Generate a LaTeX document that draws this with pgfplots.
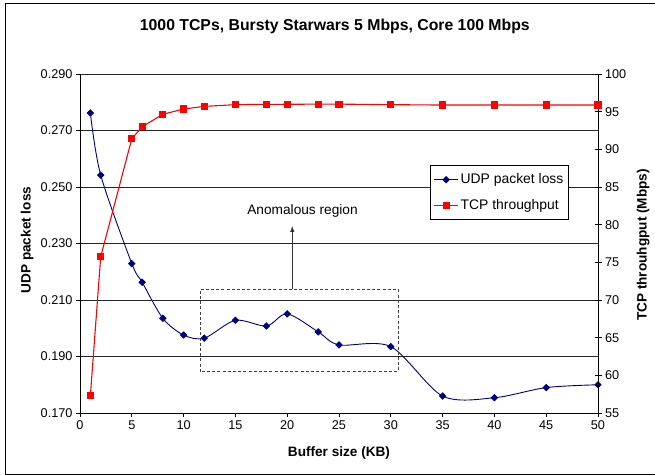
\documentclass[border=0pt]{standalone}
\usepackage{fontspec}
\setmainfont{Liberation Sans}
\usepackage{pgfplots}
\pgfplotsset{compat=1.18}
\usetikzlibrary{arrows.meta}

\definecolor{udpblue}{RGB}{0,0,128}
\definecolor{tcpred}{RGB}{255,0,0}

\pgfplotsset{
  common/.style={
    at={(80bp,62bp)}, anchor=south west,
    scale only axis, width=518bp, height=339bp,
    xmin=0, xmax=50,
    axis line style={line width=0.8bp, black},
    major tick style={line width=0.8bp, black},
    /pgf/number format/assume math mode=true,
    tick label style={font=\fontsize{12.7bp}{14bp}\selectfont},
    label style={font=\bfseries\fontsize{13.6bp}{16bp}\selectfont},
  }
}

\begin{document}
\begin{tikzpicture}
\useasboundingbox (0,0) rectangle (655bp,475bp);
\draw[line width=0.8bp] (5bp,1bp) rectangle (660bp,472bp);

% left axis: UDP packet loss
\begin{axis}[common,
    ymin=0.17, ymax=0.29,
    axis x line*=bottom, axis y line*=left,
    xtick={0,5,...,50},
    ytick={0.17,0.19,0.21,0.23,0.25,0.27,0.29},
    yticklabel style={/pgf/number format/fixed, /pgf/number format/fixed zerofill, /pgf/number format/precision=3},
    tick align=outside, major tick length=4bp,
    ymajorgrids, grid style={line width=0.6bp, black!85},
    xlabel={Buffer size (KB)},
    ylabel={UDP packet loss},
    xlabel style={at={(axis description cs:0.5,-0.118)}, anchor=center},
    ylabel style={at={(axis description cs:-0.102,0.51)}, anchor=center},
    title={1000 TCPs, Bursty Starwars 5 Mbps, Core 100 Mbps},
    title style={at={(axis description cs:0.492,1.124)}, anchor=center, font=\bfseries\fontsize{15.8bp}{18bp}\selectfont},
]
\addplot[udpblue, line width=0.9bp, smooth, tension=0.5, mark=square*, mark size=2.2bp,
    mark options={rotate=45, solid}] coordinates {
  (1,0.2762) (2,0.2542) (5,0.2229) (6,0.2163) (8,0.2035) (10,0.1976)
  (12,0.1965) (15,0.2028) (18,0.2008) (20,0.2051) (23,0.1987) (25,0.1941)
  (30,0.1935) (35,0.1760) (40,0.1754) (45,0.1790) (50,0.1800)
};
\draw[dash pattern=on 3bp off 2.2bp, line width=0.8bp, black!75]
  (axis cs:11.58,0.1846) rectangle (axis cs:30.7,0.2138);
\draw[line width=0.8bp, black!80, -{Latex[length=6bp,width=4.5bp]}]
  (axis cs:20.49,0.2138) -- (axis cs:20.49,0.2362);
\node[font=\fontsize{13.7bp}{16bp}\selectfont, anchor=center] at (axis cs:21.48,0.2416) {Anomalous region};
\end{axis}

% right axis: TCP throughput
\begin{axis}[common,
    ymin=55, ymax=100,
    axis x line=none, axis y line*=right,
    ytick={55,60,...,100},
    tick align=center, major tick length=7bp,
    ylabel={TCP throuhgput (Mbps)},
    ylabel style={at={(axis description cs:1.087,0.4956)}, anchor=center},
    legend style={at={(axis description cs:0.676,0.7316)}, anchor=north west,
      draw=black, line width=0.8bp, fill=white,
      font=\fontsize{13.9bp}{16bp}\selectfont,
      row sep=10bp, inner xsep=3bp, inner ysep=6.5bp},
    legend cell align=left,
    legend image code/.code={
      \draw[mark repeat=2, mark phase=2, #1] plot coordinates {(0bp,0bp) (12bp,0bp) (24bp,0bp)};
    },
]
\addlegendimage{udpblue, line width=0.9bp, mark=square*, mark size=2.2bp, mark options={rotate=45, solid}}
\addlegendentry{UDP packet loss}
\addplot[tcpred, line width=1.1bp, mark=square*, mark size=3bp] coordinates {
  (1,57.3) (2,75.75) (5,91.4) (6,93.0) (8,94.65) (10,95.35) (12,95.7)
  (15,95.93) (18,95.97) (20,95.98) (23,96.0) (25,96.0) (30,95.93)
  (35,95.88) (40,95.88) (45,95.88) (50,95.88)
};
\addlegendentry{TCP throughput}
\end{axis}
\end{tikzpicture}
\end{document}
